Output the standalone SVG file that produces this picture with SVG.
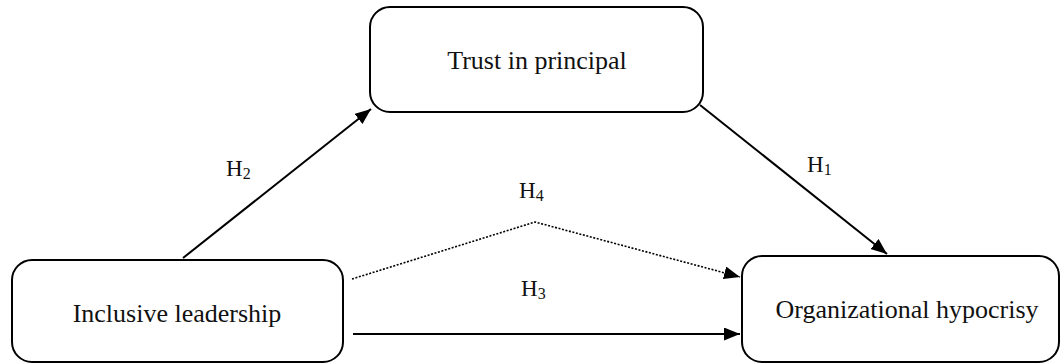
<svg xmlns="http://www.w3.org/2000/svg" width="1061" height="364" viewBox="0 0 1061 364">
<style>
.box{fill:#fff;stroke:#000;stroke-width:2}
.lbl{font-family:"Liberation Serif","Times New Roman",serif;font-size:26px;fill:#111;text-anchor:middle}
.h{font-family:"Liberation Serif","Times New Roman",serif;font-size:23px;fill:#111}
.sub{font-size:16px}
.ln{fill:none;stroke:#000;stroke-width:2}
.dot{fill:none;stroke:#000;stroke-width:1.6;stroke-dasharray:2 1.6}
</style>
<defs>
<marker id="ah" markerUnits="userSpaceOnUse" markerWidth="18" markerHeight="14" refX="16" refY="6.5" orient="auto">
<path d="M0,0 L16,6.5 L0,13 Z" fill="#000"/>
</marker>
</defs>
<rect width="1061" height="364" fill="#fff"/>
<g id="connectors">
<path class="ln" d="M183,258 L371,109" marker-end="url(#ah)"/>
<path class="ln" d="M700,105 L887,254" marker-end="url(#ah)"/>
<path class="dot" d="M352,279 L535,222 L740,277" marker-end="url(#ah)"/>
<path class="ln" d="M353,334 L740,334" marker-end="url(#ah)"/>
</g>
<g id="node-trust">
<rect class="box" x="370" y="7" width="333" height="105" rx="20"/>
<text class="lbl" x="537" y="69">Trust in principal</text>
</g>
<g id="node-inclusive">
<rect class="box" x="12" y="260" width="331" height="102" rx="20"/>
<text class="lbl" x="177" y="322">Inclusive leadership</text>
</g>
<g id="node-hypocrisy">
<rect class="box" x="742" y="256" width="317" height="106" rx="20"/>
<text class="lbl" x="907" y="318">Organizational hypocrisy</text>
</g>
<g id="labels">
<text class="h" x="226" y="176">H<tspan class="sub" dy="3">2</tspan></text>
<text class="h" x="807" y="172">H<tspan class="sub" dy="3">1</tspan></text>
<text class="h" x="519" y="198">H<tspan class="sub" dy="3">4</tspan></text>
<text class="h" x="521" y="296">H<tspan class="sub" dy="3">3</tspan></text>
</g>
</svg>
